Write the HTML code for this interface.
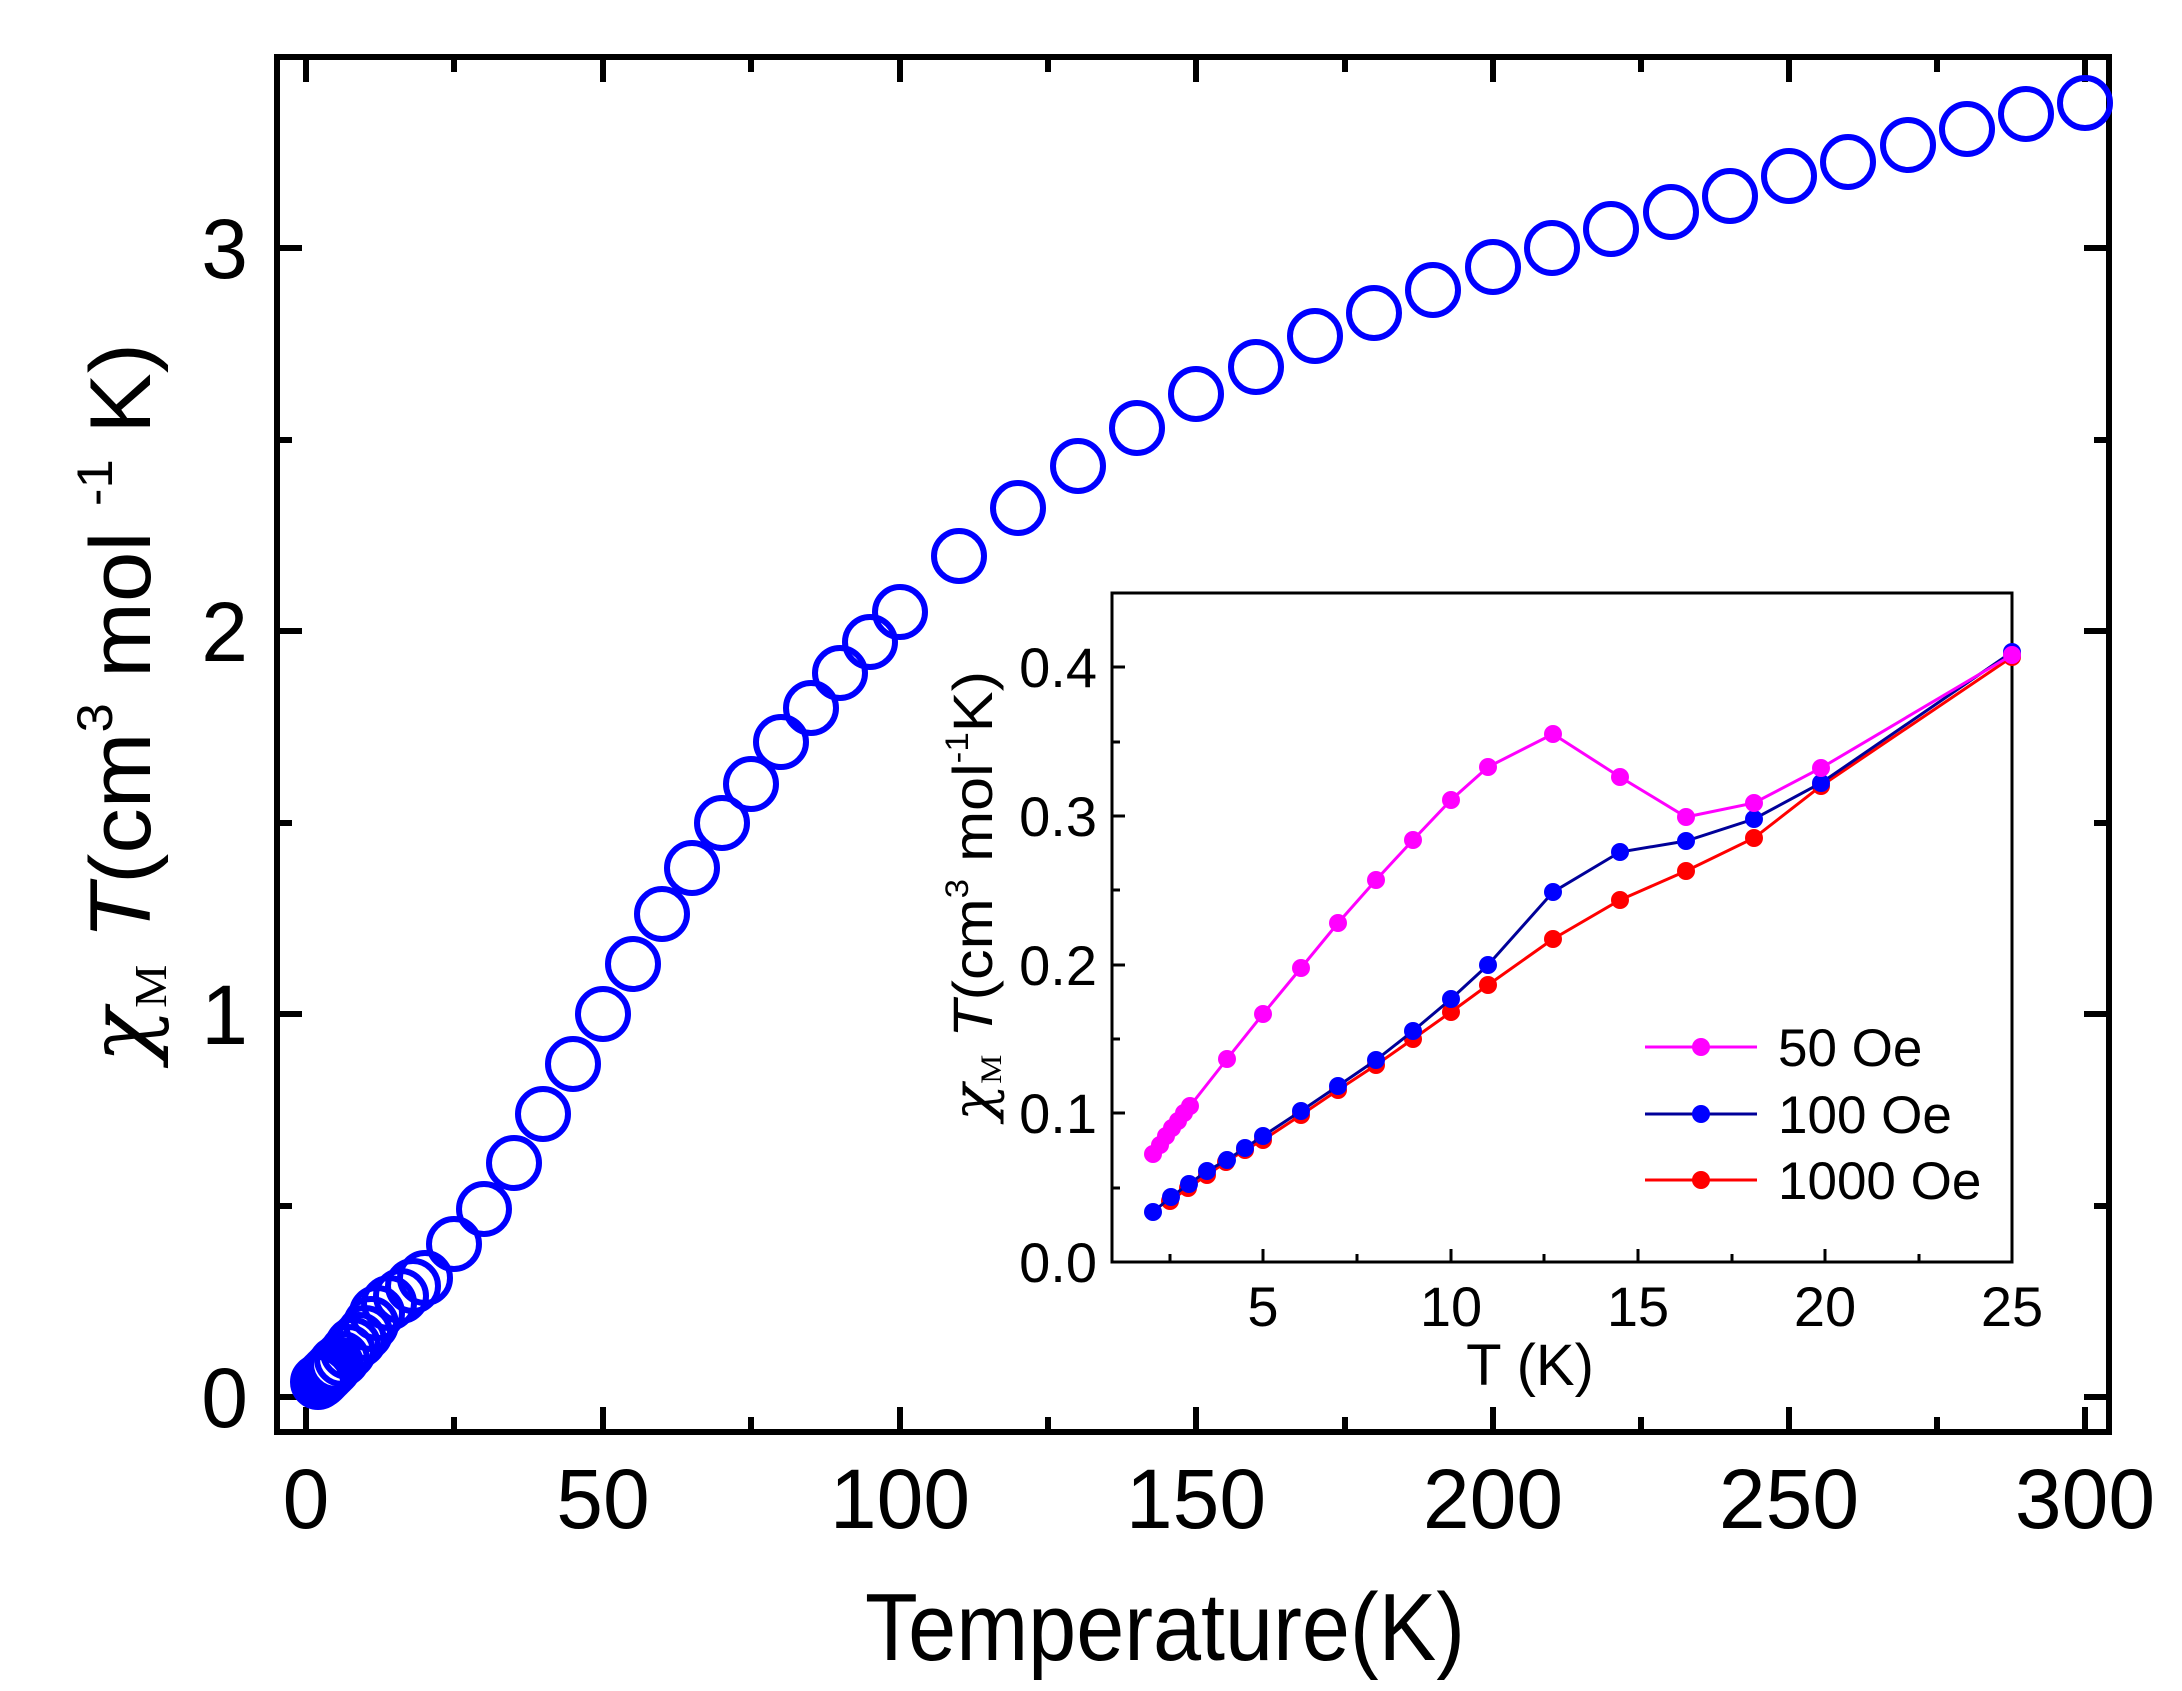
<!DOCTYPE html>
<html><head><meta charset="utf-8"><style>html,body{margin:0;padding:0;background:#fff}svg{display:block}</style></head>
<body>
<svg width="2182" height="1691" viewBox="0 0 2182 1691" xmlns="http://www.w3.org/2000/svg" font-family="Liberation Sans, Arial, sans-serif">
<rect width="2182" height="1691" fill="#fff"/>
<rect x="277" y="57" width="1832" height="1375" fill="none" stroke="#000" stroke-width="6"/>
<g stroke="#000" stroke-width="6">
<path d="M306 1432v-25M603 1432v-25M900 1432v-25M1196 1432v-25M1493 1432v-25M1789 1432v-25M2085 1432v-25"/>
<path d="M454 1432v-15M751 1432v-15M1048 1432v-15M1345 1432v-15M1641 1432v-15M1937 1432v-15"/>
<path d="M306 57v25M603 57v25M900 57v25M1196 57v25M1493 57v25M1789 57v25M2085 57v25"/>
<path d="M454 57v15M751 57v15M1048 57v15M1345 57v15M1641 57v15M1937 57v15"/>
<path d="M277 1397h25M277 1014h25M277 631h25M277 248h25M277 1206h15M277 823h15M277 440h15"/>
<path d="M2109 1397h-25M2109 1014h-25M2109 631h-25M2109 248h-25M2109 1206h-15M2109 823h-15M2109 440h-15"/>
</g>
<g font-size="84" fill="#000" text-anchor="middle">
<text x="306" y="1528">0</text><text x="603" y="1528">50</text><text x="900" y="1528">100</text><text x="1196" y="1528">150</text><text x="1493" y="1528">200</text><text x="1789" y="1528">250</text><text x="2085" y="1528">300</text>
</g>
<g font-size="84" fill="#000" text-anchor="end">
<text x="248" y="1427">0</text><text x="248" y="1044">1</text><text x="248" y="661">2</text><text x="248" y="278">3</text>
</g>
<text x="1165" y="1660" font-size="96" text-anchor="middle" textLength="600" lengthAdjust="spacingAndGlyphs">Temperature(K)</text>
<text transform="translate(150,703) rotate(-90)" font-size="86" text-anchor="middle" textLength="720" lengthAdjust="spacingAndGlyphs"><tspan font-family="DejaVu Serif, serif" font-style="italic">χ</tspan><tspan font-size="46" dy="16" font-family="Liberation Serif, serif">M</tspan><tspan dy="-16" font-style="italic"> T</tspan>(cm<tspan font-size="50" dy="-38">3</tspan><tspan dy="38"> mol </tspan><tspan font-size="50" dy="-38">-1</tspan><tspan dy="38"> K)</tspan></text>
<g fill="none" stroke="#0000ff" stroke-width="6">
<circle cx="2085" cy="103" r="25"/><circle cx="2026" cy="114" r="25"/><circle cx="1967" cy="129" r="25"/><circle cx="1908" cy="145" r="25"/><circle cx="1848" cy="162" r="25"/><circle cx="1789" cy="176" r="25"/><circle cx="1730" cy="196" r="25"/><circle cx="1671" cy="212" r="25"/><circle cx="1611" cy="229" r="25"/><circle cx="1552" cy="248" r="25"/><circle cx="1493" cy="267" r="25"/><circle cx="1433" cy="290" r="25"/><circle cx="1374" cy="313" r="25"/><circle cx="1315" cy="336" r="25"/><circle cx="1256" cy="367" r="25"/><circle cx="1196" cy="394" r="25"/><circle cx="1137" cy="428" r="25"/><circle cx="1078" cy="466" r="25"/><circle cx="1018" cy="508" r="25"/><circle cx="959" cy="556" r="25"/><circle cx="900" cy="612" r="25"/><circle cx="870" cy="642" r="25"/><circle cx="840" cy="673" r="25"/><circle cx="811" cy="708" r="25"/><circle cx="781" cy="742" r="25"/><circle cx="751" cy="784" r="25"/><circle cx="722" cy="823" r="25"/><circle cx="692" cy="868" r="25"/><circle cx="662" cy="914" r="25"/><circle cx="633" cy="964" r="25"/><circle cx="603" cy="1014" r="25"/><circle cx="573" cy="1064" r="25"/><circle cx="543" cy="1114" r="25"/><circle cx="514" cy="1163" r="25"/><circle cx="484" cy="1209" r="25"/><circle cx="454" cy="1244" r="25"/><circle cx="425" cy="1278" r="25"/><circle cx="413" cy="1286" r="25"/><circle cx="401" cy="1296" r="25"/><circle cx="389" cy="1303" r="25"/><circle cx="377" cy="1313" r="25"/><circle cx="371" cy="1324" r="25"/><circle cx="365" cy="1333" r="25"/><circle cx="359" cy="1340" r="25"/><circle cx="353" cy="1345" r="25"/><circle cx="348" cy="1352" r="25"/><circle cx="342" cy="1359" r="25"/><circle cx="336" cy="1364" r="25"/><circle cx="333" cy="1368" r="25"/><circle cx="330" cy="1371" r="25"/><circle cx="327" cy="1374" r="25"/><circle cx="324" cy="1377" r="25"/><circle cx="321" cy="1380" r="25"/><circle cx="318" cy="1382" r="25"/>
</g>
<rect x="1112" y="593" width="900" height="669" fill="#fff" stroke="#000" stroke-width="3"/>
<g stroke="#000" stroke-width="3">
<path d="M1263 1262v-13M1451 1262v-13M1638 1262v-13M1825 1262v-13M1170 1262v-8M1357 1262v-8M1544 1262v-8M1732 1262v-8M1919 1262v-8"/>
<path d="M1112 1262h13M1112 1113h13M1112 965h13M1112 816h13M1112 667h13M1112 1188h8M1112 1039h8M1112 890h8M1112 742h8M1112 593h8"/>
</g>
<g font-size="56" fill="#000" text-anchor="end">
<text x="1097" y="1282">0.0</text><text x="1097" y="1133">0.1</text><text x="1097" y="985">0.2</text><text x="1097" y="836">0.3</text><text x="1097" y="687">0.4</text>
</g>
<g font-size="56" fill="#000" text-anchor="middle">
<text x="1263" y="1326">5</text><text x="1451" y="1326">10</text><text x="1638" y="1326">15</text><text x="1825" y="1326">20</text><text x="2012" y="1326">25</text>
</g>
<text x="1530" y="1385" font-size="58" text-anchor="middle">T (K)</text>
<text transform="translate(992,896) rotate(-90)" font-size="56" text-anchor="middle" textLength="450" lengthAdjust="spacingAndGlyphs"><tspan font-family="DejaVu Serif, serif" font-style="italic">χ</tspan><tspan font-size="30" dy="9" font-family="Liberation Serif, serif">M</tspan><tspan dy="-9" font-style="italic"> T</tspan>(cm<tspan font-size="32" dy="-24">3</tspan><tspan dy="24"> mol</tspan><tspan font-size="32" dy="-24">-1</tspan><tspan dy="24">K)</tspan></text>
<g fill="#ff0000">
<polyline fill="none" stroke="#ff0000" stroke-width="3" points="1170,1201 1188,1188 1207,1175 1226,1162 1245,1150 1263,1140 1301,1115 1338,1090 1376,1065 1413,1039 1451,1012 1488,985 1553,939 1620,900 1686,871 1754,838 1821,786 2012,657"/>
<circle cx="1170" cy="1201" r="9"/><circle cx="1188" cy="1188" r="9"/><circle cx="1207" cy="1175" r="9"/><circle cx="1226" cy="1162" r="9"/><circle cx="1245" cy="1150" r="9"/><circle cx="1263" cy="1140" r="9"/><circle cx="1301" cy="1115" r="9"/><circle cx="1338" cy="1090" r="9"/><circle cx="1376" cy="1065" r="9"/><circle cx="1413" cy="1039" r="9"/><circle cx="1451" cy="1012" r="9"/><circle cx="1488" cy="985" r="9"/><circle cx="1553" cy="939" r="9"/><circle cx="1620" cy="900" r="9"/><circle cx="1686" cy="871" r="9"/><circle cx="1754" cy="838" r="9"/><circle cx="1821" cy="786" r="9"/><circle cx="2012" cy="657" r="9"/>
</g>
<g fill="#0000ff">
<polyline fill="none" stroke="#000099" stroke-width="3" points="1153,1212 1171,1197 1189,1184 1207,1171 1227,1160 1245,1148 1263,1136 1301,1111 1338,1086 1376,1060 1413,1031 1451,999 1488,965 1553,892 1620,852 1686,841 1754,819 1821,783 2012,652"/>
<circle cx="1153" cy="1212" r="9"/><circle cx="1171" cy="1197" r="9"/><circle cx="1189" cy="1184" r="9"/><circle cx="1207" cy="1171" r="9"/><circle cx="1227" cy="1160" r="9"/><circle cx="1245" cy="1148" r="9"/><circle cx="1263" cy="1136" r="9"/><circle cx="1301" cy="1111" r="9"/><circle cx="1338" cy="1086" r="9"/><circle cx="1376" cy="1060" r="9"/><circle cx="1413" cy="1031" r="9"/><circle cx="1451" cy="999" r="9"/><circle cx="1488" cy="965" r="9"/><circle cx="1553" cy="892" r="9"/><circle cx="1620" cy="852" r="9"/><circle cx="1686" cy="841" r="9"/><circle cx="1754" cy="819" r="9"/><circle cx="1821" cy="783" r="9"/><circle cx="2012" cy="652" r="9"/>
</g>
<g fill="#ff00ff">
<polyline fill="none" stroke="#ff00ff" stroke-width="3" points="1153,1154 1160,1145 1166,1136 1172,1128 1178,1121 1184,1113 1190,1106 1227,1059 1263,1014 1301,968 1338,923 1376,880 1413,840 1451,800 1488,767 1553,734 1620,777 1686,817 1754,803 1821,768 2012,655"/>
<circle cx="1153" cy="1154" r="9"/><circle cx="1160" cy="1145" r="9"/><circle cx="1166" cy="1136" r="9"/><circle cx="1172" cy="1128" r="9"/><circle cx="1178" cy="1121" r="9"/><circle cx="1184" cy="1113" r="9"/><circle cx="1190" cy="1106" r="9"/><circle cx="1227" cy="1059" r="9"/><circle cx="1263" cy="1014" r="9"/><circle cx="1301" cy="968" r="9"/><circle cx="1338" cy="923" r="9"/><circle cx="1376" cy="880" r="9"/><circle cx="1413" cy="840" r="9"/><circle cx="1451" cy="800" r="9"/><circle cx="1488" cy="767" r="9"/><circle cx="1553" cy="734" r="9"/><circle cx="1620" cy="777" r="9"/><circle cx="1686" cy="817" r="9"/><circle cx="1754" cy="803" r="9"/><circle cx="1821" cy="768" r="9"/><circle cx="2012" cy="655" r="9"/>
</g>
<g stroke-width="3">
<line x1="1645" y1="1047" x2="1757" y2="1047" stroke="#ff00ff"/><circle cx="1701" cy="1047" r="9" fill="#ff00ff" stroke="none"/>
<line x1="1645" y1="1114" x2="1757" y2="1114" stroke="#000099"/><circle cx="1701" cy="1114" r="9" fill="#0000ff" stroke="none"/>
<line x1="1645" y1="1180" x2="1757" y2="1180" stroke="#ff0000"/><circle cx="1701" cy="1180" r="9" fill="#ff0000" stroke="none"/>
</g>
<g font-size="53" fill="#000">
<text x="1778" y="1066">50 Oe</text><text x="1778" y="1133">100 Oe</text><text x="1778" y="1199">1000 Oe</text>
</g>
</svg>
</body></html>
